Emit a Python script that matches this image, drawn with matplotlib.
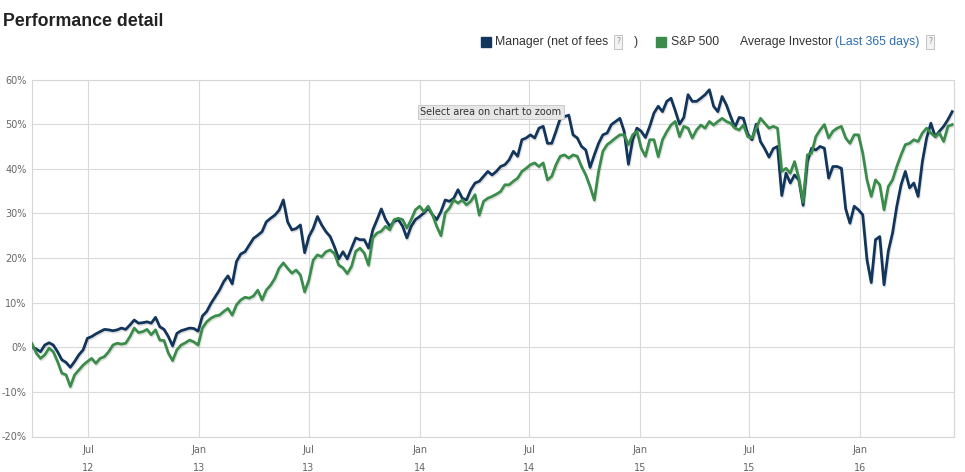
import matplotlib
matplotlib.use("Agg")
import matplotlib.pyplot as plt
import matplotlib.patheffects as pe
import pandas as pd

# weekly readings, end of Mar 2012 to start of Jun 2016
start_date = "2012-03-30"
end_date = "2016-06-01"

manager = [
    0.1, -0.4, -1.0, 0.5, 1.0, 0.5, -1.0, -2.8, -3.4, -4.5,
    -3.2, -1.7, -0.6, 2.0, 2.4, 3.0, 3.5, 4.0, 3.9, 3.7,
    3.9, 4.3, 4.0, 5.0, 6.1, 5.4, 5.5, 5.7, 5.4, 6.7,
    4.6, 4.0, 2.4, 0.3, 3.1, 3.7, 4.0, 4.3, 4.2, 3.6,
    7.0, 8.0, 9.8, 11.3, 12.8, 14.7, 16.0, 14.2, 19.2, 20.9,
    21.4, 22.9, 24.4, 25.1, 25.9, 28.1, 28.9, 29.6, 30.7, 33.0,
    28.1, 26.3, 26.6, 27.4, 21.2, 24.8, 26.6, 29.3, 27.4, 25.9,
    24.8, 22.5, 19.8, 21.4, 19.8, 22.2, 24.5, 24.1, 24.1, 22.2,
    26.3, 28.6, 31.0, 28.6, 27.1, 28.2, 28.6, 27.1, 24.5, 27.1,
    28.6, 29.3, 30.1, 31.2, 29.7, 28.6, 30.4, 33.0, 32.7, 33.4,
    35.3, 33.4, 33.0, 35.3, 36.8, 37.2, 38.3, 39.4, 38.6, 39.4,
    40.5, 40.9, 42.0, 43.9, 42.8, 46.5, 46.9, 47.6, 46.9, 49.1,
    49.5, 45.7, 45.7, 48.4, 51.3, 51.7, 52.0, 47.6, 46.9, 45.0,
    44.2, 40.3, 43.1, 45.7, 47.6, 48.0, 49.9, 50.6, 51.3, 48.4,
    41.0, 46.5, 49.1, 48.4, 47.0, 49.5, 52.5, 54.0, 52.8, 55.1,
    55.8, 53.0, 50.0, 51.5, 56.6, 55.1, 55.1, 55.8, 56.6, 57.7,
    54.0, 52.8, 56.2, 54.3, 51.7, 49.3, 51.5, 51.3, 47.8, 46.5,
    50.0, 46.1, 44.5, 42.6, 44.5, 45.0, 34.0, 39.0, 36.8, 38.6,
    37.5, 31.8, 41.6, 44.6, 44.2, 45.0, 44.6, 37.9, 40.5, 40.5,
    40.1, 31.0, 27.8, 31.6, 30.8, 29.7, 19.6, 14.5, 24.1, 24.8,
    14.0, 21.5, 25.6, 31.6, 36.4, 39.4, 35.7, 36.8, 33.8, 41.6,
    46.9, 50.2, 47.2, 48.4, 49.5, 51.0, 52.8,
]

sp500 = [
    0.8, -1.3, -2.5, -1.7, -0.2, -1.0, -3.2, -5.8, -6.2, -8.8,
    -6.2, -5.1, -4.0, -3.2, -2.5, -3.6, -2.5, -2.1, -1.0, 0.5,
    0.9, 0.7, 0.9, 2.4, 4.3, 3.3, 3.5, 4.0, 2.8, 3.9,
    1.6, 1.5, -1.3, -3.0, -0.6, 0.5, 1.0, 1.6, 1.2, 0.5,
    4.3, 5.7, 6.5, 7.0, 7.2, 8.0, 8.7, 7.2, 9.5, 10.6,
    11.2, 11.0, 11.5, 12.8, 10.6, 12.8, 13.9, 15.4, 17.7, 18.9,
    17.7, 16.6, 17.3, 16.2, 12.4, 15.1, 19.5, 20.7, 20.3, 21.4,
    21.8, 21.0, 18.4, 17.8, 16.5, 18.1, 21.5, 22.2, 21.1, 18.4,
    24.5, 25.6, 26.0, 27.1, 26.3, 28.6, 28.9, 28.6, 26.7, 28.6,
    30.8, 31.6, 30.4, 31.6, 29.7, 27.1, 25.0, 30.1, 31.2, 33.0,
    32.3, 33.0, 31.9, 32.7, 34.2, 29.6, 32.7, 33.4, 33.8, 34.3,
    34.9, 36.4, 36.4, 37.2, 37.9, 39.4, 40.1, 40.9, 41.3, 40.5,
    41.3, 37.5, 38.3, 40.9, 42.8, 43.1, 42.4, 43.1, 42.8, 40.5,
    38.6, 36.0, 33.0, 39.4, 43.9, 45.4, 46.1, 46.9, 47.6, 47.6,
    45.4, 47.6, 48.4, 44.6, 42.8, 46.5, 46.5, 42.7, 46.5, 48.3,
    49.8, 50.6, 47.2, 49.5, 49.1, 46.9, 48.7, 49.8, 49.1, 50.6,
    49.8, 50.6, 51.3, 50.6, 50.2, 49.1, 48.7, 49.8, 47.2, 46.9,
    49.1, 51.3, 50.2, 49.1, 49.5, 49.1, 39.4, 40.1, 39.0, 41.6,
    37.9, 32.5, 43.1, 43.5, 47.2, 48.7, 49.9, 46.9, 48.4, 49.1,
    49.5, 46.9, 45.7, 47.6, 47.6, 43.5, 37.5, 33.8, 37.5, 36.4,
    30.8, 36.0, 37.5, 40.5, 43.1, 45.4, 45.7, 46.5, 46.1, 48.0,
    49.1, 48.0, 47.2, 48.0, 46.1, 49.5, 49.9,
]

y_ticks = [-20, -10, 0, 10, 20, 30, 40, 50, 60]
x_ticks = ["2012-07-01", "2013-01-01", "2013-07-01", "2014-01-01",
           "2014-07-01", "2015-01-01", "2015-07-01", "2016-01-01"]

navy = "#12355c"
green = "#3a8c4b"
W, H = 965, 472


def fx(px):
    return px / W


def fy(py):
    return 1 - py / H


dates = pd.date_range(start_date, end_date, periods=len(manager))

fig = plt.figure(figsize=(W / 100, H / 100), dpi=100)
ax = fig.add_axes([fx(32), fy(436.5), fx(922), 357 / H])

shadow = [pe.SimpleLineShadow(offset=(0.6, -1.2), shadow_color="#000000", alpha=0.12),
          pe.Normal()]
ax.plot(dates, manager, color=navy, lw=2.0, path_effects=shadow, zorder=3)
ax.plot(dates, sp500, color=green, lw=2.0, path_effects=shadow, zorder=4)

ax.set_ylim(-20, 60)
ax.set_xlim(pd.Timestamp("2012-03-30"), pd.Timestamp("2016-06-04"))
ax.set_yticks(y_ticks)
ax.set_yticklabels([f"{v}%" for v in y_ticks])
tick_dates = pd.to_datetime(x_ticks)
ax.set_xticks(tick_dates)
ax.set_xticklabels([d.strftime("%b") + "\n" + d.strftime("%y") for d in tick_dates])
for lab in ax.get_xticklabels():
    lab.set_linespacing(2.0)

ax.grid(True, color="#dadada", lw=0.8)
ax.set_axisbelow(True)
for s in ax.spines.values():
    s.set_color("#d6d6d6")
    s.set_linewidth(0.8)
ax.tick_params(length=0, colors="#666666", labelsize=7, pad=6)
ax.tick_params(axis="y", pad=4)

# title and legend
fig.text(fx(3), fy(22), "Performance detail", fontsize=12.8, fontweight="bold",
         color="#222222", family="Liberation Sans", va="center")

ly = fy(42)
fig.patches.append(plt.Rectangle((fx(481), fy(47)), 10 / W, 10 / H, color=navy,
                                 transform=fig.transFigure, figure=fig))
fig.text(fx(495), ly, "Manager (net of fees", fontsize=8.8, color="#333333",
         family="Liberation Sans", va="center")
qbox = dict(boxstyle="square,pad=0.3", fc="#f3f3f3", ec="#bbbbbb", lw=0.6)
fig.text(fx(618), ly, "?", fontsize=5.5, color="#888888", ha="center", va="center", bbox=qbox)
fig.text(fx(634), ly, ")", fontsize=8.8, color="#333333", family="Liberation Sans", va="center")
fig.patches.append(plt.Rectangle((fx(656), fy(47)), 10 / W, 10 / H, color=green,
                                 transform=fig.transFigure, figure=fig))
fig.text(fx(671), ly, "S&P 500", fontsize=8.8, color="#333333",
         family="Liberation Sans", va="center")
fig.text(fx(740), ly, "Average Investor", fontsize=8.8, color="#333333",
         family="Liberation Sans", va="center")
fig.text(fx(835), ly, "(Last 365 days)", fontsize=8.8, color="#2a6db5",
         family="Liberation Sans", va="center")
fig.text(fx(930), ly, "?", fontsize=5.5, color="#888888", ha="center", va="center", bbox=qbox)

# zoom hint box
fig.text(fx(491), fy(112), "Select area on chart to zoom", fontsize=7, color="#333333",
         ha="center", va="center", family="DejaVu Sans", zorder=10,
         bbox=dict(boxstyle="square,pad=0.25", fc="#e6e6e6", ec="#c4c4c4", lw=0.6))

fig.savefig("out.png", dpi=100)
